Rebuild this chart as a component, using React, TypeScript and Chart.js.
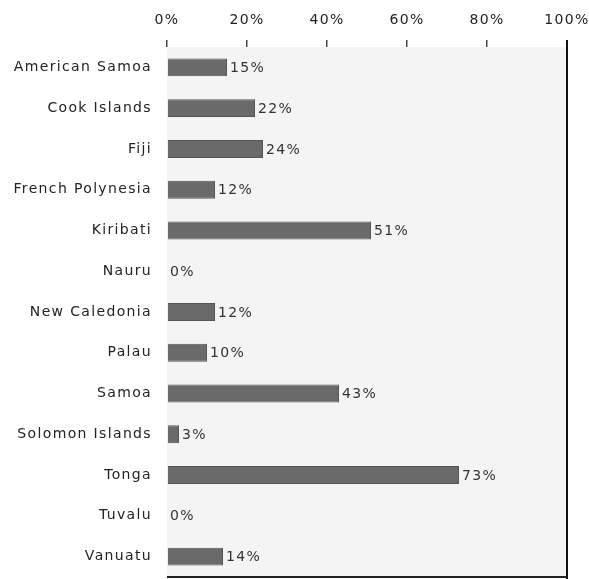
import React, { useEffect, useRef } from "react";
import { Chart, registerables } from "chart.js";

Chart.register(...registerables);

const categories = [
  "American Samoa",
  "Cook Islands",
  "Fiji",
  "French Polynesia",
  "Kiribati",
  "Nauru",
  "New Caledonia",
  "Palau",
  "Samoa",
  "Solomon Islands",
  "Tonga",
  "Tuvalu",
  "Vanuatu",
];
const values = [15, 22, 24, 12, 51, 0, 12, 10, 43, 3, 73, 0, 14];
const xTicks = [0, 20, 40, 60, 80, 100];

const FONT_FAMILY = "'DejaVu Sans', 'Liberation Sans', Arial, sans-serif";
const LETTER_SPACING = "1.35px";

function zeroPadding(scale: any) {
  scale.paddingTop = 0;
  scale.paddingBottom = 0;
  scale.paddingLeft = 0;
  scale.paddingRight = 0;
}

export default function App() {
  const ref = useRef<HTMLCanvasElement | null>(null);

  useEffect(() => {
    document.body.style.margin = "0";
    const canvas = ref.current!;
    const spacingPlugin = {
      id: "spacing",
      beforeUpdate(chart: any) {
        (chart.ctx as any).letterSpacing = LETTER_SPACING;
      },
      beforeDraw(chart: any) {
        (chart.ctx as any).letterSpacing = LETTER_SPACING;
      },
    };
    const bgPlugin = {
      id: "bg",
      beforeDatasetsDraw(chart: any) {
        const { ctx, chartArea } = chart;
        ctx.save();
        ctx.fillStyle = "#f4f4f4";
        ctx.fillRect(chartArea.left, chartArea.top, chartArea.right - chartArea.left, chartArea.bottom - chartArea.top);
        ctx.restore();
      },
      afterDraw(chart: any) {
        const { ctx, chartArea } = chart;
        ctx.save();
        ctx.strokeStyle = "#111";
        ctx.lineWidth = 2;
        ctx.beginPath();
        ctx.moveTo(chartArea.right, chartArea.top - 7);
        ctx.lineTo(chartArea.right, chart.height);
        ctx.stroke();
        ctx.strokeStyle = "#222";
        ctx.lineWidth = 2;
        ctx.beginPath();
        ctx.moveTo(chartArea.left, chartArea.bottom);
        ctx.lineTo(chartArea.right, chartArea.bottom);
        ctx.stroke();
        ctx.restore();
      },
    };
    const labelPlugin = {
      id: "valueLabels",
      afterDatasetsDraw(chart: any) {
        const { ctx } = chart;
        const meta = chart.getDatasetMeta(0);
        ctx.save();
        (ctx as any).letterSpacing = "1.3px";
        ctx.font = `14px ${FONT_FAMILY}`;
        ctx.fillStyle = "#333";
        ctx.textAlign = "left";
        ctx.textBaseline = "middle";
        meta.data.forEach((bar: any, i: number) => {
          ctx.fillText(`${values[i]}%`, bar.x + 3, bar.y + 1);
        });
        ctx.restore();
      },
    };

    const chart = new Chart(canvas, {
      type: "bar",
      data: {
        labels: categories,
        datasets: [
          {
            data: values,
            backgroundColor: "#6a6a6a",
            borderColor: "#555",
            borderWidth: 1,
            barPercentage: 0.44,
            categoryPercentage: 1,
          },
        ],
      },
      options: {
        indexAxis: "y",
        animation: false,
        responsive: false,
        layout: { autoPadding: false, padding: { top: 0, right: 22, bottom: 2, left: 0 } },
        plugins: { legend: { display: false }, tooltip: { enabled: false } },
        scales: {
          x: {
            position: "top",
            min: 0,
            max: 100,
            afterBuildTicks(scale: any) {
              scale.ticks = xTicks.map((v) => ({ value: v }));
            },
            afterFit(scale: any) {
              scale.height = 47;
              zeroPadding(scale);
            },
            ticks: {
              callback: (v: any) => `${v}%`,
              color: "#222",
              font: { family: FONT_FAMILY, size: 14 },
              padding: 11,
              maxRotation: 0,
            },
            grid: {
              drawOnChartArea: false,
              drawTicks: true,
              tickLength: 7,
              color: "#444",
              lineWidth: 1.5,
            },
            border: { display: true, color: "#888", width: 1 },
          },
          y: {
            afterFit(scale: any) {
              scale.width = 167;
              zeroPadding(scale);
            },
            ticks: {
              color: "#222",
              font: { family: FONT_FAMILY, size: 14 },
              padding: 15,
            },
            grid: { display: false, drawTicks: false },
            border: { display: true, color: "#c8c8c8", width: 1 },
          },
        },
      } as any,
      plugins: [spacingPlugin, bgPlugin, labelPlugin],
    });
    return () => chart.destroy();
  }, []);

  return (
    <div style={{ width: 589, height: 579, background: "#fff" }}>
      <canvas ref={ref} width={589} height={579} style={{ display: "block" }} />
    </div>
  );
}
